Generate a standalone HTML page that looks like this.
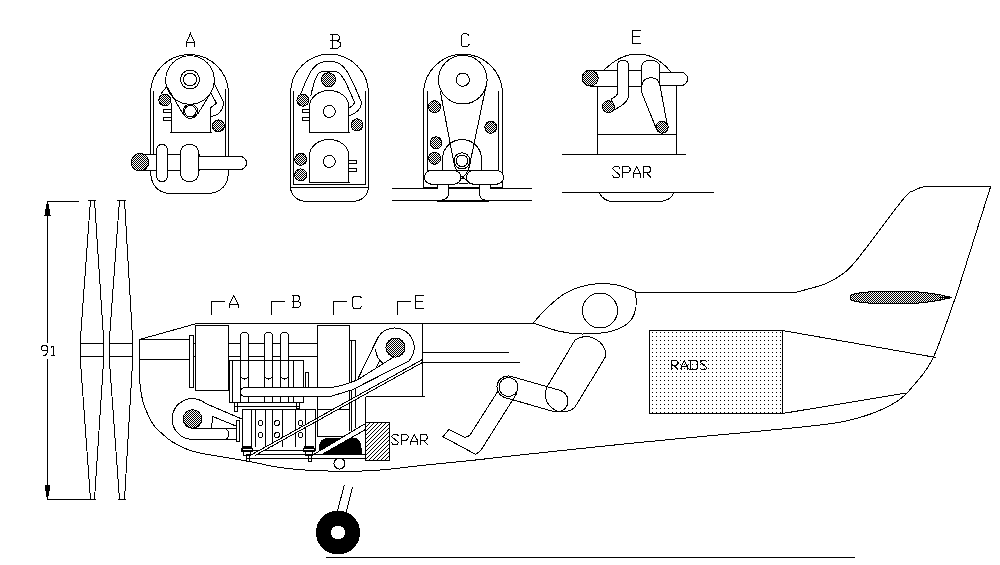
<!DOCTYPE html>
<html><head><meta charset="utf-8"><style>
html,body{margin:0;padding:0;background:#fff;width:1000px;height:565px;overflow:hidden}
svg{display:block}
text{font-family:"Liberation Sans",sans-serif;fill:#000}
</style></head><body>
<svg width="1000" height="565" viewBox="0 0 1000 565">
<defs>
<pattern id="dith" width="2" height="2" patternUnits="userSpaceOnUse"><rect width="1" height="1" fill="#000"/><rect x="1" y="1" width="1" height="1" fill="#000"/></pattern>
<pattern id="dots" x="652" y="332" width="4" height="4" patternUnits="userSpaceOnUse"><rect width="1" height="1" fill="#000"/></pattern>
<pattern id="hatch" width="4" height="4" patternUnits="userSpaceOnUse"><path d="M0,0h1v1h-1zM1,3h1v1h-1zM2,2h1v1h-1zM3,1h1v1h-1z" fill="#000"/></pattern>
</defs>
<rect width="1000" height="565" fill="#fff"/>
<g fill="none" stroke="#000" stroke-width="1" shape-rendering="crispEdges">
<path d="M47.5,201 V342.5 M47.5,358.5 V499.5 M47,201.5 H79 M47,499.5 H92" />
<path d="M47.5,201 L45,215 H50 Z" fill="#000"/>
<path d="M47.5,499.5 L45,485 H50 Z" fill="#000"/>
<path d="M90.5,200 L80.5,338 V362 L90.5,499.5 M94.5,200 L103.5,338 V362 L94.5,499.5 M88.0,200.5 H95.5 M89.0,499.5 H95.5 M80.5,343.5 H103.5 M80.5,356.5 H103.5" />
<path d="M119.5,200 L109.5,338 V362 L119.5,499.5 M124.5,200 L132.5,338 V362 L124.5,499.5 M117.0,200.5 H125.5 M118.0,499.5 H125.5 M109.5,343.5 H132.5 M109.5,356.5 H132.5" />
<path d="M47.50,350.50 L46.30,350.70 L42.70,350.70 L41.50,349.00 L41.50,347.00 L42.70,345.50 L46.30,345.50 L47.50,347.00 L47.50,352.50 L45.10,355.50 L42.70,355.50 M50.90,347.50 L53.00,346.00 M53.00,345.50 L53.00,355.50 M51.20,355.50 L55.10,355.50 " />
<path d="M139.5,339.5 L195,324 L200,323.5 H533" />
<path d="M139.5,339.5 V360  C139.52,363.10 139.27,372.72 139.60,378.60 C139.93,384.48 140.57,390.35 141.50,395.30 C142.43,400.25 143.18,403.35 145.20,408.30 C147.22,413.25 150.65,420.67 153.60,425.00 C156.55,429.33 159.80,431.50 162.90,434.30 C166.00,437.10 168.18,439.32 172.20,441.80 C176.22,444.28 182.37,447.33 187.00,449.20 C191.63,451.07 195.33,451.92 200.00,453.00 C204.67,454.08 207.17,454.37 215.00,455.70 C222.83,457.03 236.17,459.03 247.00,461.00 C257.83,462.97 268.50,465.88 280.00,467.50 C291.50,469.12 300.83,470.17 316.00,470.70 C331.17,471.23 353.00,471.62 371.00,470.70 C389.00,469.78 407.17,466.92 424.00,465.20 C440.83,463.48 456.00,462.10 472.00,460.40 C488.00,458.70 492.00,458.00 520.00,455.00 C548.00,452.00 600.00,446.38 640.00,442.40 C680.00,438.42 727.67,434.30 760.00,431.10 C792.33,427.90 815.67,426.02 834.00,423.20 C852.33,420.38 859.17,418.07 870.00,414.20 C880.83,410.33 891.25,405.37 899.00,400.00 C906.75,394.63 912.00,387.00 916.50,382.00 C921.00,377.00 923.08,374.33 926.00,370.00 C928.92,365.67 931.00,362.67 934.00,356.00 C937.00,349.33 940.00,341.00 944.00,330.00 C948.00,319.00 955.67,296.67 958.00,290.00 L990.5,187" />
<path d="M635,292.5 H795  C800.00,291.08 817.08,287.08 825.00,284.00 C832.92,280.92 837.08,278.17 842.50,274.00 C847.92,269.83 847.50,271.33 857.50,259.00 C867.50,246.67 893.33,211.29 902.50,200.00 C911.67,188.71 908.75,193.50 912.50,191.25 C916.25,189.00 920.42,187.29 925.00,186.50 C929.58,185.71 937.50,186.50 940.00,186.50 H990.5" />
<path d="M211.5,315 V301.5 H225.0" />
<path d="M271.5,315 V301.5 H285.0" />
<path d="M333.5,315 V301.5 H347.0" />
<path d="M397.5,315 V301.5 H411.0" />
<path d="M229.50,308.00 L229.50,304.00 L233.75,295.50 L238.00,304.00 L238.00,308.00 M229.50,304.00 L238.00,304.00 " />
<path d="M291.60,295.50 L297.75,295.50 L299.40,296.94 L299.40,299.82 L297.75,301.26 L291.60,301.26 M297.75,301.26 L300.00,302.70 L300.00,306.06 L298.12,307.50 L291.60,307.50 M293.40,295.50 L293.40,307.50 " />
<path d="M361.50,298.50 L360.15,296.00 L353.85,296.00 L352.50,298.50 L352.50,306.00 L353.85,308.50 L360.15,308.50 L361.50,306.00 " />
<path d="M424.00,295.50 L415.50,295.50 L415.50,308.00 L424.00,308.00 M415.50,301.75 L422.73,301.75 " />
<path d="M139.5,339.5 H189.5 M139.5,359.5 H189.5" />
<rect x="189.5" y="335.5" width="4.0" height="52.0" />
<path d="M193.5,343.5 H195.5 M193.5,356.5 H195.5" />
<rect x="195.5" y="325.5" width="33.0" height="65.0" />
<path d="M228.5,343.5 H317.5 M228.5,356.5 H317.5" />
<rect x="229.5" y="360.5" width="74.0" height="42.0" />
<path d="M232.5,360.5 V402.5" />
<path d="M293.5,360.5 V402.5" />
<rect x="305.5" y="372.5" width="3.0" height="15.0" />
<path d="M240.5,402.5 V336.0 A4.0,4.0 0 0 1 248.5,336.0 V402.5" fill="#fff"/>
<path d="M240.5,377 Q244.5,381 248.5,377" />
<path d="M240.5,360.5 H248.5" />
<path d="M264.5,402.5 V336.0 A4.0,4.0 0 0 1 272.5,336.0 V402.5" fill="#fff"/>
<path d="M264.5,377 Q268.5,381 272.5,377" />
<path d="M264.5,360.5 H272.5" />
<path d="M280.5,402.5 V336.0 A4.0,4.0 0 0 1 288.5,336.0 V402.5" fill="#fff"/>
<path d="M280.5,377 Q284.5,381 288.5,377" />
<path d="M280.5,360.5 H288.5" />
<rect x="317.5" y="325.5" width="32.0" height="84.0" />
<path d="M349.5,340.5 V431 M351.5,340.5 V431 M355.5,340.5 V428 M349.5,340.5 H355.5" />
<path d="M245,387.5 H331 C340,386.5 349,383.5 357.6,379.8 L393.7,357 L408.6,361.2 L351,390.4 C345,391.5 340,394 330,396.5 H245 A4.5,4.5 0 0 1 245,387.5 Z" fill="#fff" stroke="none"/>
<path d="M245,396.5 A4.5,4.5 0 0 1 245,387.5 H331 C340,386.5 349,383.5 357.6,379.8 L393.7,357" />
<path d="M245,396.5 H330 C340,394 345,391.5 351,390.4 L408.6,361.2" />
<rect x="234.5" y="402.5" width="65.0" height="4.0" />
<rect x="234.5" y="402.5" width="3.0" height="9.0" />
<rect x="296.5" y="402.5" width="3.0" height="6.0" />
<path d="M205.6,403.5 A20.2,20.2 0 0 0 172.2,419.2 A20.2,20.2 0 0 0 190,439.2 M212,416.2 Q213,422 211,428.6" />
<circle cx="192.5" cy="419" r="9.3" fill="#fff" stroke="none"/>
<circle cx="192.5" cy="419" r="9.3" fill="url(#dith)"/>
<circle cx="192.5" cy="419" r="9.3" />
<path d="M205.6,403.5 L241.7,418.9 M212,416.2 L236.3,426.1" />
<path d="M192,428.6 H236.3 M189,439.2 H236.3 M226.5,429 Q231,434 226.5,439.2" />
<rect x="236.5" y="420.5" width="3.0" height="21.0" />
<rect x="242.5" y="409.5" width="73.0" height="41.0" fill="#fff"/>
<path d="M251.5,409.5 V447" />
<path d="M255.5,409.5 V447" />
<path d="M265.5,409.5 V447" />
<path d="M272.5,409.5 V447" />
<path d="M282.5,409.5 V447" />
<path d="M295.5,409.5 V447" />
<path d="M305.5,409.5 V447" />
<circle cx="260.5" cy="423" r="2.5" />
<circle cx="260.5" cy="435" r="2.5" />
<circle cx="277" cy="423" r="2.5" />
<circle cx="277" cy="435" r="2.5" />
<circle cx="300.5" cy="423" r="2.5" />
<circle cx="300.5" cy="435" r="2.5" />
<rect x="242.5" y="446" width="9.0" height="2.5" fill="#000"/>
<rect x="241.5" y="448.5" width="11.0" height="3.0" />
<rect x="243.5" y="451.5" width="7.0" height="3.5" />
<rect x="304.5" y="446" width="9.0" height="2.5" fill="#000"/>
<rect x="303.5" y="448.5" width="11.0" height="3.0" />
<rect x="305.5" y="451.5" width="7.0" height="3.5" />
<rect x="246.5" y="454.5" width="65.0" height="4.0" />
<rect x="246.5" y="454.5" width="3.0" height="7.0" />
<rect x="308.5" y="454.5" width="3.0" height="7.0" />
<path d="M311.5,454.5 H365.5 M311.5,458.5 H365.5" />
<path d="M251,455 L422.5,359.5 L422.5,362.5 L255,455.5 Z" fill="#fff" stroke="none"/>
<path d="M251,455 L422.5,359.5 M255,455.5 L422.5,362.5" />
<path d="M422.5,323.5 V396.5 M366,396.5 H425 M365.5,396.5 V422.5" />
<path d="M422.5,352.5 H509 M422.5,362.5 H520" />
<path d="M376.7,340 A19.5,19.5 0 1 1 408.6,361.2" />
<path d="M376.7,340 L357.6,379.5 M375.6,349 Q376,356 379.9,360.2 L383.1,363.9 M379.9,360.2 L375.6,368.7" />
<circle cx="395.5" cy="347.5" r="9.5" fill="#fff" stroke="none"/>
<circle cx="395.5" cy="347.5" r="9.5" fill="url(#dith)"/>
<circle cx="395.5" cy="347.5" r="9.5" />
<path d="M319.5,454 V447 C319.5,441 324,438 331,438 H353 C358,438 361,442 361,448 V454 Z" fill="#000"/>
<path d="M313.5,454.5 L365.5,423.5 V429.5 L322,454.5 Z" fill="#fff"/>
<rect x="365.5" y="422.5" width="24.0" height="38.0" fill="url(#hatch)"/>
<path d="M398.50,436.50 L397.45,434.50 L393.25,434.50 L391.50,436.50 L398.50,442.50 L397.10,444.50 L392.90,444.50 L391.50,442.50 M401.20,444.50 L401.20,434.50 L406.45,434.50 L408.20,436.50 L408.20,438.00 L406.45,440.00 L401.20,440.00 M410.90,444.50 L410.90,441.30 L414.40,434.50 L417.90,441.30 L417.90,444.50 M410.90,441.30 L417.90,441.30 M420.60,444.50 L420.60,434.50 L425.85,434.50 L427.60,436.50 L427.60,438.00 L425.85,440.00 L420.60,440.00 M423.40,440.00 L427.60,444.50 " />
<circle cx="339.5" cy="463.5" r="5.5" fill="#fff"/>
<path d="M317.5,409.5 V436 H345" />
<path d="M533.25,323.00 C535.21,320.83 540.12,314.67 545.00,310.00 C549.88,305.33 556.67,298.83 562.50,295.00 C568.33,291.17 574.17,288.88 580.00,287.00 C585.83,285.12 591.33,284.08 597.50,283.75 C603.67,283.42 610.75,283.75 617.00,285.00 C623.25,286.25 632.00,290.21 635.00,291.25 C 637,300 637,312 631,320 C622,331 605,334 582.5,334 C562,334 548,328 533.25,323" />
<circle cx="600" cy="310.5" r="17.5" />
<path d="M635,292.5 H640" />
<path d="M575,340 A20,20 0 0 1 606,356 L575,407 A17.5,17.5 0 0 1 547,387 Z" />
<path d="M511,376.4 L560,390.4 A11,11 0 0 1 554,411.6 L505,397.6 A11,11 0 0 1 511,376.4 Z" />
<circle cx="508.5" cy="387" r="9.5" />
<path d="M498,391 L470,435 Q468,437.3 464.5,437.3 L448.9,429.5 L442.9,436.7 L475.4,454.2 Q478,453 480.8,450.5 L517,393" />
<rect x="649.5" y="330.5" width="133.0" height="83.0" fill="url(#dots)"/>
<path d="M671.50,369.50 L671.50,360.50 L676.38,360.50 L678.00,362.30 L678.00,363.65 L676.38,365.45 L671.50,365.45 M674.10,365.45 L678.00,369.50 M681.10,369.50 L681.10,366.62 L684.35,360.50 L687.60,366.62 L687.60,369.50 M681.10,366.62 L687.60,366.62 M689.08,360.50 L695.90,360.50 L697.20,361.58 L697.20,368.42 L695.90,369.50 L689.08,369.50 M690.70,360.50 L690.70,369.50 M706.80,362.30 L705.82,360.50 L701.92,360.50 L700.30,362.30 L706.80,367.70 L705.50,369.50 L701.60,369.50 L700.30,367.70 " />
<path d="M782.5,330.5 L936,357.5 M782.5,413.5 L906,393" />
<path d="M850,295.5 C856,292 872,291 900,291 C925,291 940,294.5 952,297.5 C940,300.5 925,304 900,304 C872,304 856,303 850,299.5 Z" fill="url(#dith)"/>
<path d="M940,297.5 H952" />
<circle cx="338" cy="532.5" r="21.5" fill="#000"/>
<circle cx="338" cy="532.5" r="7" fill="#fff" stroke="none"/>
<path d="M344.4,485 L337.4,511 M352.6,487 L346,513" />
<path d="M326,557.5 H855" />
<path d="M186.50,46.50 L186.50,42.34 L190.50,33.50 L194.50,42.34 L194.50,46.50 M186.50,42.34 L194.50,42.34 " />
<path d="M150.5,170.5 V93.5 A39,39 0 0 1 228.5,93.5 V170.5 C228.5,185 221,193 208,193.5 H170 C158,193 150.5,185 150.5,170.5" />
<path d="M153.5,91 V155 M225.5,89 V156" />
<circle cx="190" cy="80" r="24.3" />
<circle cx="190" cy="79.5" r="9.5" />
<circle cx="190" cy="79.5" r="6.5" />
<path d="M171.5,103 V132.5 M210.5,107 V132.5 M170,132.5 H212" />
<rect x="163.5" y="109.5" width="8.0" height="3.0" />
<rect x="163.5" y="117.5" width="8.0" height="3.0" />
<path d="M166.8,86.4 L182.8,113.6 M210.8,92.8 L198,113.6 M166.8,86.4 L161.2,93.6" />
<circle cx="190.4" cy="111.2" r="7.2" fill="#fff"/>
<circle cx="190.4" cy="111.2" r="5.8" />
<path d="M210.8,92.8 L216.4,103.2 L210.8,107.6 M214,83.2 L223.6,102.4 C223.6,110 218,116 210.8,116.4" />
<circle cx="164.8" cy="100" r="6" fill="#fff" stroke="none"/>
<circle cx="164.8" cy="100" r="6" fill="url(#dith)"/>
<circle cx="164.8" cy="100" r="6" />
<circle cx="218.4" cy="125.9" r="6" fill="#fff" stroke="none"/>
<circle cx="218.4" cy="125.9" r="6" fill="url(#dith)"/>
<circle cx="218.4" cy="125.9" r="6" />
<path d="M140,154.5 H199 V156.5 H240 A6.5,6.5 0 0 1 240,169.5 H199 V170.5 H140" fill="#fff"/>
<circle cx="140" cy="162.3" r="8.8" fill="#fff" stroke="none"/>
<circle cx="140" cy="162.3" r="8.8" fill="url(#dith)"/>
<circle cx="140" cy="162.3" r="8.8" />
<path d="M156.5,151 Q156.5,144.5 162,144.5 Q167.5,144.5 167.5,151 V175 Q167.5,181.5 162,181.5 Q156.5,181.5 156.5,175 Z" fill="#fff"/>
<path d="M180.5,153 Q180.5,144.5 189.5,144.5 Q198.5,144.5 198.5,153 V173 Q198.5,181.5 189.5,181.5 Q180.5,181.5 180.5,173 Z" fill="#fff"/>
<path d="M330.48,34.50 L337.45,34.50 L339.32,36.12 L339.32,39.36 L337.45,40.98 L330.48,40.98 M337.45,40.98 L340.00,42.60 L340.00,46.38 L337.88,48.00 L330.48,48.00 M332.52,34.50 L332.52,48.00 " />
<path d="M290.5,93.2 A39,39 0 0 1 368.5,93.2 V187.5 H290.5 Z" />
<path d="M290.5,187.5 C291,195 297,201.5 307,201.5 H352 C362,201.5 368,195 368.5,187.5" />
<path d="M293.5,91 V184.5 H365.5 V91" />
<path d="M300,96 C308,74 314,62 325,61.7 H333 C344,62 350,74 361.8,103.2 Q360,112 349.2,115.9" />
<path d="M310.7,96 C314,82 316,73 322,71.5 H336 C342,73 346,82 354.6,102.6 Q353,106 349.2,108" />
<circle cx="328.5" cy="79.7" r="7" fill="#fff" stroke="none"/>
<circle cx="328.5" cy="79.7" r="7" fill="url(#dith)"/>
<circle cx="328.5" cy="79.7" r="7" />
<path d="M309.5,132.5 V106.5 A19.65,16 0 0 1 348.8,106.5 V132.5 Z" fill="#fff"/>
<path d="M308.5,132.5 H349.8" />
<circle cx="329.3" cy="111.4" r="6" />
<rect x="302.5" y="109.5" width="7.0" height="3.0" />
<rect x="302.5" y="117.5" width="7.0" height="3.0" />
<circle cx="302.9" cy="100.2" r="6" fill="#fff" stroke="none"/>
<circle cx="302.9" cy="100.2" r="6" fill="url(#dith)"/>
<circle cx="302.9" cy="100.2" r="6" />
<circle cx="357" cy="124.9" r="6" fill="#fff" stroke="none"/>
<circle cx="357" cy="124.9" r="6" fill="url(#dith)"/>
<circle cx="357" cy="124.9" r="6" />
<path d="M309.5,182.5 V155.5 A19.65,16 0 0 1 348.8,155.5 V182.5 Z" fill="#fff"/>
<path d="M308.5,182.5 H349.8" />
<circle cx="329.3" cy="161.4" r="6" />
<rect x="348.8" y="160.5" width="7.699999999999989" height="3.0" />
<rect x="348.8" y="168.5" width="7.699999999999989" height="3.0" />
<circle cx="300.7" cy="159.3" r="6" fill="#fff" stroke="none"/>
<circle cx="300.7" cy="159.3" r="6" fill="url(#dith)"/>
<circle cx="300.7" cy="159.3" r="6" />
<circle cx="300.7" cy="174.9" r="6" fill="#fff" stroke="none"/>
<circle cx="300.7" cy="174.9" r="6" fill="url(#dith)"/>
<circle cx="300.7" cy="174.9" r="6" />
<path d="M469.5,36.5 Q468,33.5 465.5,33.5 Q461,33.5 461,38 V42.5 Q461,47 465.5,47 Q468,47 469.5,44" fill="none" stroke="#000"/>
<path d="M423.5,93.7 A39.5,39.5 0 0 1 502.5,93.7 V184 M423.5,93.7 V184" />
<path d="M427.5,91 V170.5 M498.5,91 V170.5 M427.5,170.5 H498.5" />
<circle cx="462.8" cy="79.7" r="24.3" />
<circle cx="462.8" cy="79.7" r="6.6" />
<path d="M442.5,170.5 V159 A19.5,19.5 0 0 1 481.5,159 V170.5" />
<circle cx="462" cy="160.8" r="8" />
<circle cx="462" cy="160.8" r="5.8" />
<path d="M440.2,91 L453.6,161.3 Q455,172 463,177.5 L470,183.5 M486.6,83.2 L470.6,160.3 Q470,170 463,177.5 L455.5,183.5 M459,183.5 H468" />
<circle cx="434.5" cy="106.8" r="6" fill="#fff" stroke="none"/>
<circle cx="434.5" cy="106.8" r="6" fill="url(#dith)"/>
<circle cx="434.5" cy="106.8" r="6" />
<circle cx="436" cy="142.8" r="6" fill="#fff" stroke="none"/>
<circle cx="436" cy="142.8" r="6" fill="url(#dith)"/>
<circle cx="436" cy="142.8" r="6" />
<circle cx="434.6" cy="158.3" r="6" fill="#fff" stroke="none"/>
<circle cx="434.6" cy="158.3" r="6" fill="url(#dith)"/>
<circle cx="434.6" cy="158.3" r="6" />
<circle cx="490.8" cy="127.3" r="6" fill="#fff" stroke="none"/>
<circle cx="490.8" cy="127.3" r="6" fill="url(#dith)"/>
<circle cx="490.8" cy="127.3" r="6" />
<path d="M430.5,170.5 H455 A8,7 0 0 1 455,184 H430.5 A8,7 0 0 1 430.5,170.5 Z" fill="#fff"/>
<path d="M472.5,170.5 H497.5 A8,7 0 0 1 497.5,184 H472.5 A8,7 0 0 1 472.5,170.5 Z" fill="#fff"/>
<path d="M423.5,184 V188.5 M437.5,184 V188.5 M448.5,184 V194 Q448.5,200.5 437,200.5 M479.5,184 V194 Q479.5,200.5 489,200.5 M502.5,184 V188.5 M490,184 V188.5" />
<rect x="448" y="187" width="32" height="2" fill="#000" stroke="none"/>
<rect x="423" y="187" width="15" height="2" fill="#000" stroke="none"/>
<rect x="490" y="187" width="13" height="2" fill="#000" stroke="none"/>
<path d="M392,188.5 H423.5 M502.5,188.5 H532 M392,200.5 H532 M437,201.5 H489" />
<path d="M641.00,30.00 L632.00,30.00 L632.00,43.00 L641.00,43.00 M632.00,36.50 L639.65,36.50 " />
<path d="M604.2,70 Q620,54 637.8,54 Q656,54 670.7,71.7" />
<path d="M597.5,86.4 V154.5 M676.5,85.5 V154.5 M597.5,134 H676.5" />
<path d="M561.5,154.5 H685.5" />
<path d="M620.00,168.70 L618.88,166.50 L614.38,166.50 L612.50,168.70 L620.00,175.30 L618.50,177.50 L614.00,177.50 L612.50,175.30 M622.80,177.50 L622.80,166.50 L628.42,166.50 L630.30,168.70 L630.30,170.35 L628.42,172.55 L622.80,172.55 M633.10,177.50 L633.10,173.98 L636.85,166.50 L640.60,173.98 L640.60,177.50 M633.10,173.98 L640.60,173.98 M643.40,177.50 L643.40,166.50 L649.02,166.50 L650.90,168.70 L650.90,170.35 L649.02,172.55 L643.40,172.55 M646.40,172.55 L650.90,177.50 " />
<path d="M561.5,192.5 H714 M599.3,192.5 Q603,201.5 613.7,201.5 H658.8 Q670,201.5 674.2,192.5" />
<path d="M590.2,70.3 H641.7 V72.3 H681 A6.6,6.6 0 0 1 681,85.5 H641.7 V86.4 H590.2 Z" fill="#fff"/>
<circle cx="590.2" cy="78" r="8" fill="#fff" stroke="none"/>
<circle cx="590.2" cy="78" r="8" fill="url(#dith)"/>
<circle cx="590.2" cy="78" r="8" />
<path d="M617.6,92.5 V65.5 Q617.6,60.4 623,60.4 Q628.5,60.4 628.5,65.5 V97.5 Q626,104 614.8,109.5 L611.2,98.9 Q617.6,96 617.6,92.5 Z" fill="#fff"/>
<circle cx="608.4" cy="106.7" r="6" fill="#fff" stroke="none"/>
<circle cx="608.4" cy="106.7" r="6" fill="url(#dith)"/>
<circle cx="608.4" cy="106.7" r="6" />
<path d="M641.7,92.5 V67 Q641.7,60.4 650.7,60.4 Q659.7,60.4 659.7,67 V84 L667.2,124.4 L656.6,129.4 Z" fill="#fff"/>
<path d="M641.7,86 Q643,77.7 650.7,77.7 Q658,77.7 659.7,84" />
<circle cx="662.2" cy="127.2" r="6" fill="#fff" stroke="none"/>
<circle cx="662.2" cy="127.2" r="6" fill="url(#dith)"/>
<circle cx="662.2" cy="127.2" r="6" />
</g></svg></body></html>
